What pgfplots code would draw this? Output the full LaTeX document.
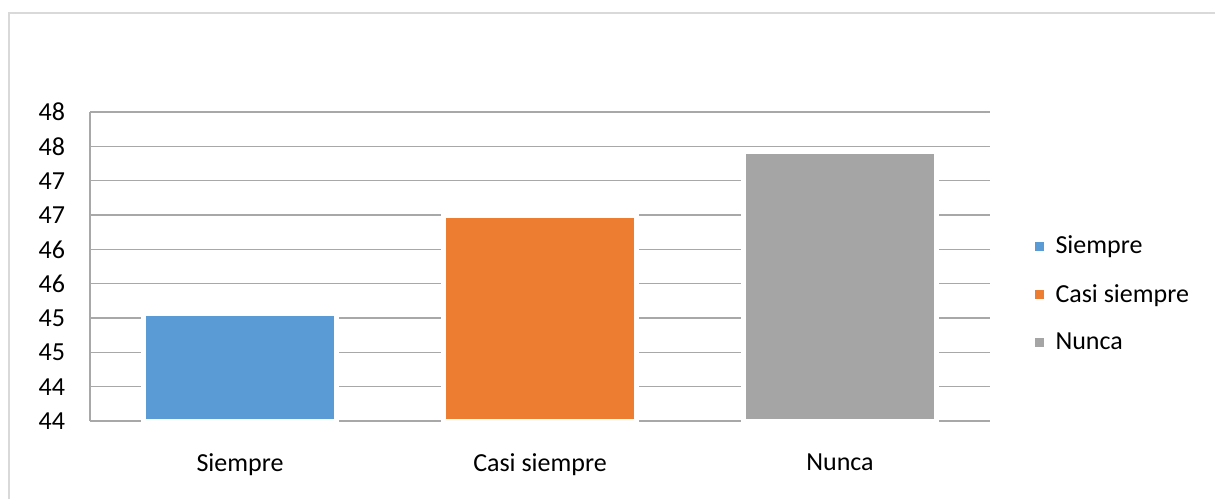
\documentclass[border=0pt]{standalone}
\usepackage{pgfplots}
\pgfplotsset{compat=1.18}
\usepackage{fontspec}
\setmainfont{Carlito}
\definecolor{cblue}{HTML}{5B9BD5}
\definecolor{corange}{HTML}{ED7D31}
\definecolor{cgray}{HTML}{A5A5A5}
\definecolor{gridc}{HTML}{A8A8A8}
\definecolor{borderc}{HTML}{D9D9D9}
\begin{document}
\begin{tikzpicture}[x=0.5pt,y=0.5pt]
\useasboundingbox (0,0) rectangle (1215,499);
\draw[borderc, line width=1pt] (9,0) -- (9,486) -- (1215,486);
\begin{axis}[
  at={(45pt,39pt)}, anchor=south west,
  scale only axis, width=450pt, height=154.5pt,
  xmin=-0.5, xmax=2.5, ymin=0, ymax=4.5,
  y filter/.expression={y-43.5},
  ytick={0,0.5,...,4.5},
  yticklabels={44,44,45,45,46,46,47,47,48,48},
  xtick={0,1,2},
  xticklabels={Siempre,Casi siempre,Nunca},
  axis lines=left,
  axis line style={gridc, line width=0.6pt, -},
  major tick length=0pt,
  ymajorgrids,
  grid style={gridc, line width=0.6pt},
  ybar, bar width=96.5pt,
  clip=false,
  tick label style={font=\fontsize{13}{15}\selectfont, text=black},
  yticklabel style={anchor=east, xshift=-9pt},
  xticklabel style={anchor=north, yshift=-13pt},
  legend style={at={(1.049,0.41)}, anchor=west, draw=none, fill=none,
    font=\fontsize{13}{15}\selectfont, row sep=9.75pt, inner sep=0pt,
    /tikz/every odd column/.append style={column sep=4pt}},
  legend cell align=left,
  legend image code/.code={\fill[#1,draw=none] (0pt,-2.25pt) rectangle (4.5pt,2.25pt);},
]
\addplot[fill=cblue, draw=white, line width=2.5pt, bar shift=0pt] coordinates {(0,45.07)};
\addplot[fill=corange, draw=white, line width=2.5pt, bar shift=0pt] coordinates {(1,46.49)};
\addplot[fill=cgray, draw=white, line width=2.5pt, bar shift=0pt] coordinates {(2,47.43)};
\legend{Siempre,Casi siempre,Nunca}
\end{axis}
\end{tikzpicture}
\end{document}
